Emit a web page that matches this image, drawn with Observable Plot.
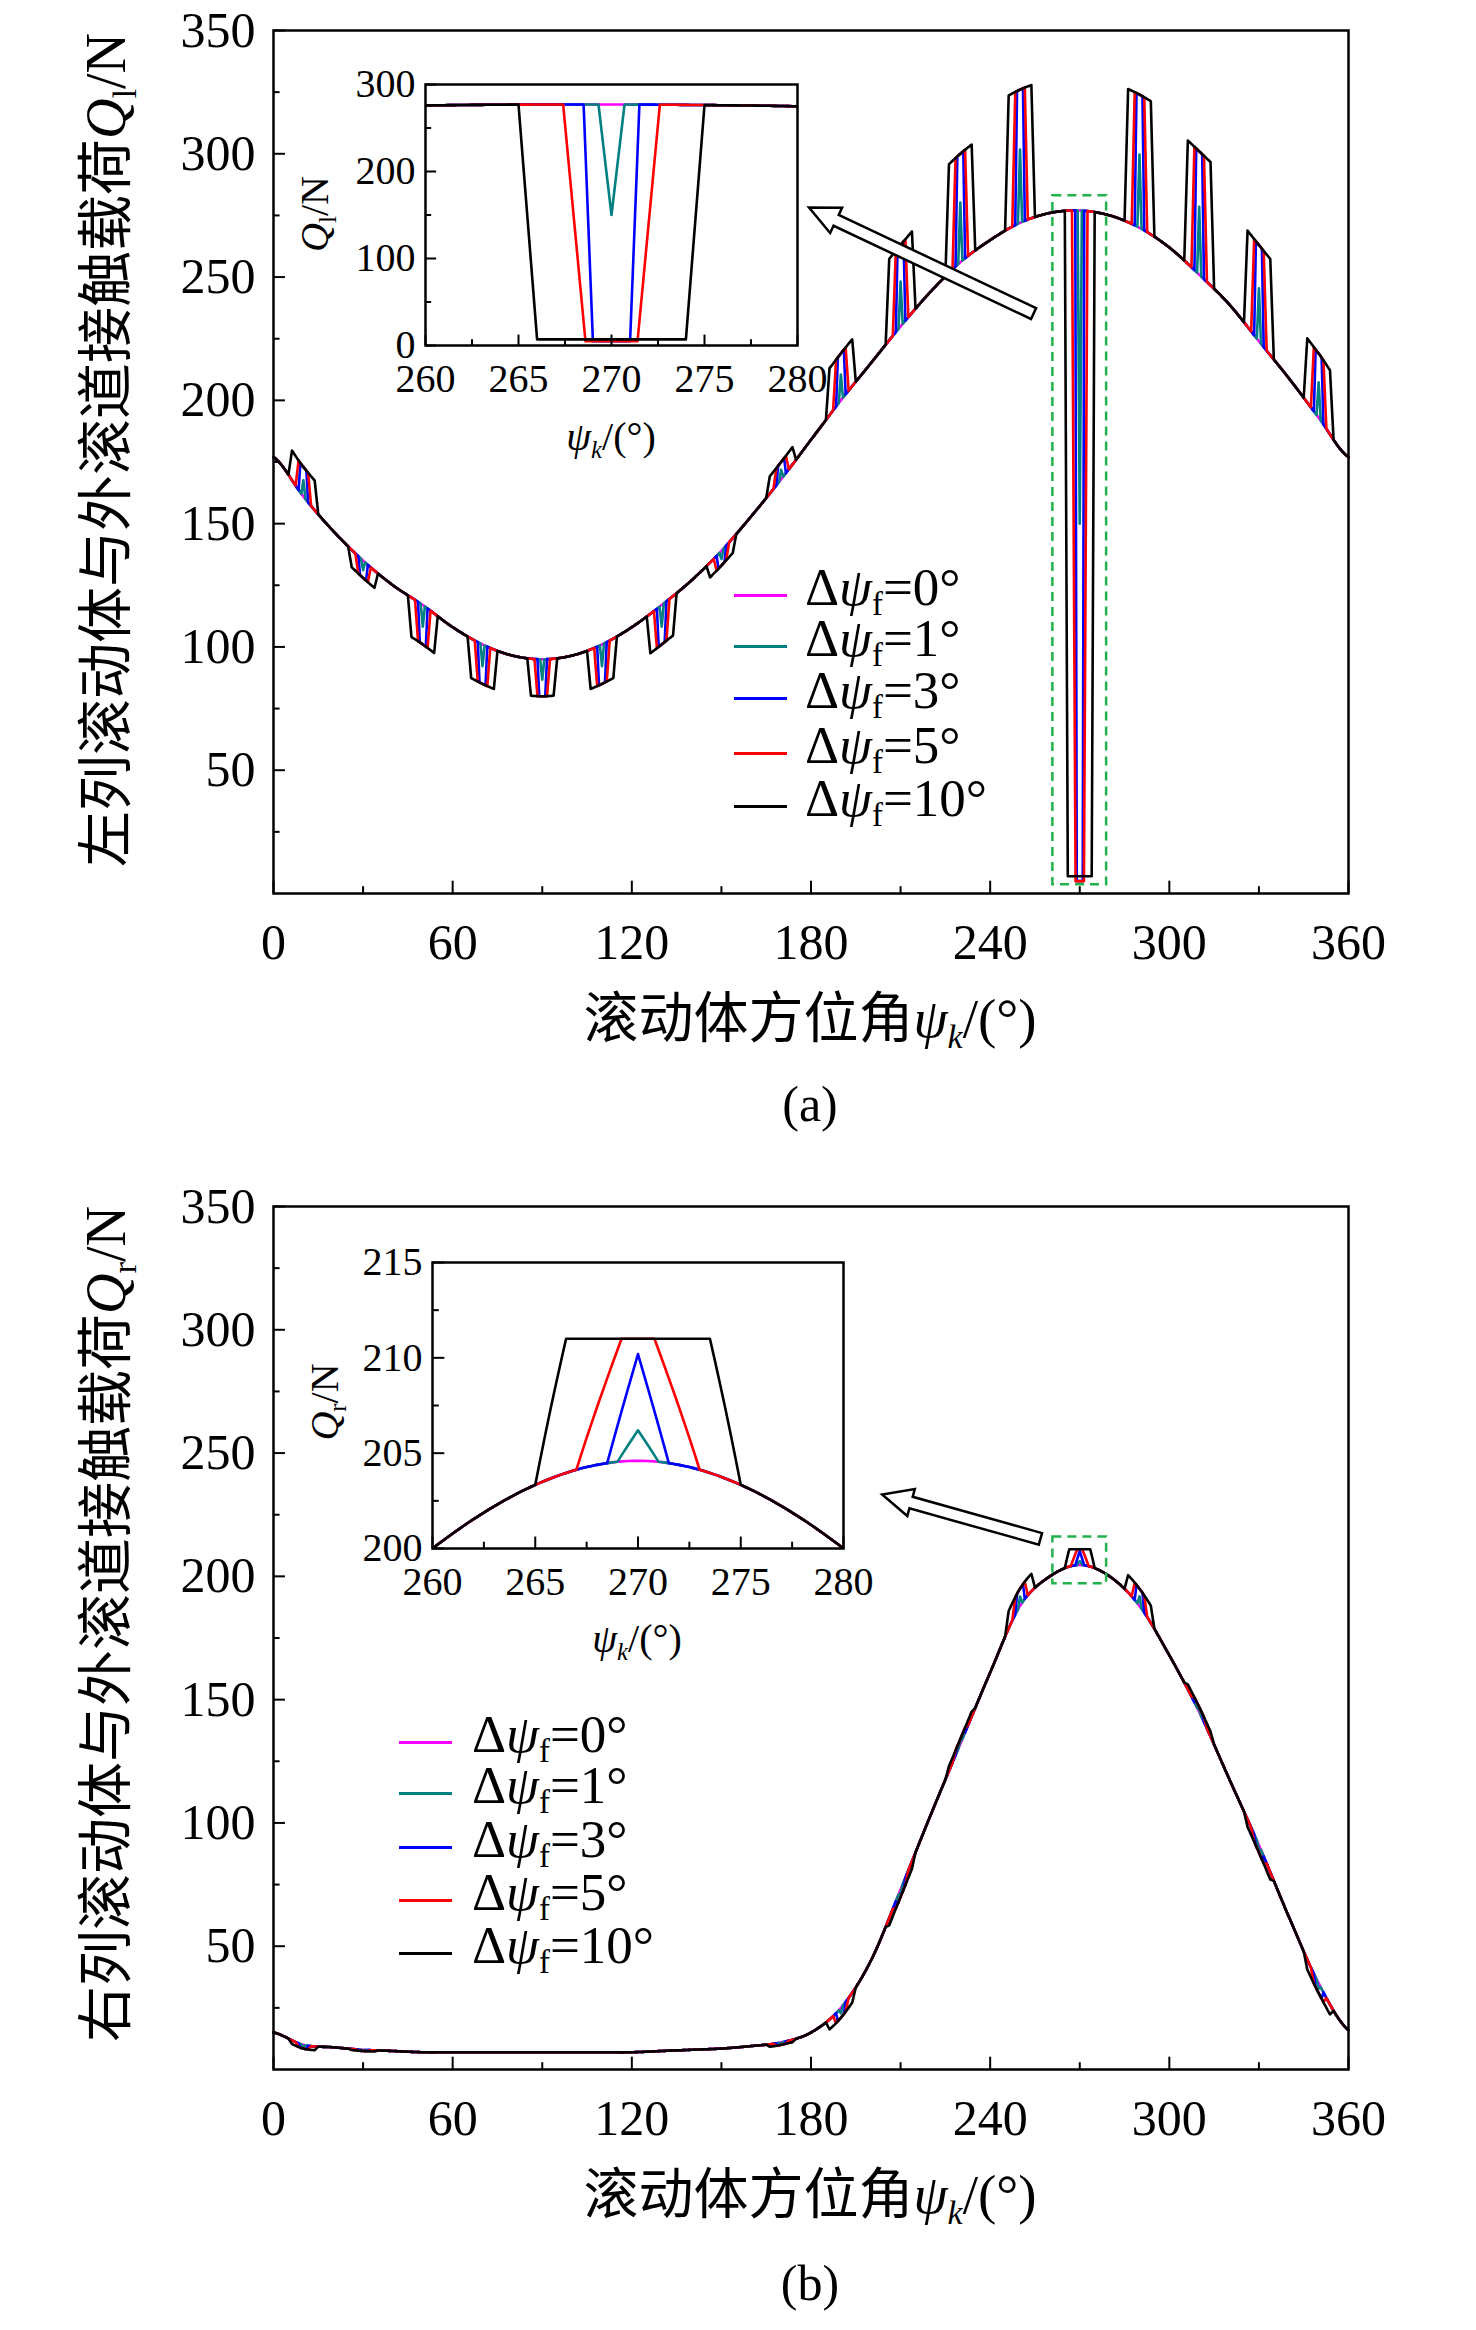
<!DOCTYPE html>
<html><head><meta charset="utf-8">
<script src="https://cdn.jsdelivr.net/npm/d3@7"></script>
<script src="https://cdn.jsdelivr.net/npm/@observablehq/plot@0.6"></script>
<style>
body{margin:0;background:#fff}
#wrap{position:relative;width:1476px;height:2330px;background:#fff;overflow:hidden;font-family:"Liberation Serif",serif}
#wrap svg{position:absolute;overflow:visible;background:transparent}
#wrap svg text{font-family:"Liberation Serif",serif !important}
.lab{position:absolute;transform:translate(-50%,-50%);white-space:nowrap;color:#000;line-height:1}
.leg{position:absolute;white-space:nowrap;font-size:53px;line-height:1;transform:translateY(-50%)}
.ll{position:absolute;height:0;border-top:3px solid}
sub{font-size:0.62em;vertical-align:-0.3em}
</style></head><body><div id="wrap"></div>
<script>
// ---- data ----
const angles = d3.range(0, 361, 10);
const baseL = [177,161,147,135,125,117,108,101,96.5,95,96.5,101,108,117,127,139,153,168,184,200,215,230,244,256,265,272,276,277,275,270,262,251,239,224,209,193,177];
const baseR = [15,10,9,8,7.5,7,7,7,7,7,7,7,7,7.5,8,8.5,9.5,11,15,25,44,73,103,132,161,188,200,204.6,200,188,168,145,118,91,62,35,16];
const elemPos = [10,30,50,70,90,110,130,150,170,190,210,230,250,270,290,310,330,350];
// spike offsets from the base curve
const offL = [12,-7,-16,-16,-15,-16,-16,-6,7,19,33,44,54,0,54,50,39,26];
const offR = [-1.5,-0.5,0,0,0,0,0,0,-1,-4,-3,2,7,0,7,2,-3,-4];
const deltas = [0,1,3,5,10];
const colors = ["#ff00ff","#008080","#0000ff","#ff0000","#000000"];
// centre-element (270°) absolute values per Δψf
const centreL = {1:150,3:5,5:5,10:7};
const centreR = {1:206.2,3:210.2,5:211,10:211};
const xTicksMain = [0,60,120,180,240,300,360];
const yTicksMain = [50,100,150,200,250,300,350];
const xTicksInset = [260,265,270,275,280];
const yTicksInsetA = [0,100,200,300];
const yTicksInsetB = [200,205,210,215];
const zoomBoxA = [{x1:261,x2:279,y1:3.5,y2:283}];
const zoomBoxB = [{x1:261,x2:279,y1:197,y2:216}];
const arrowA = {x1:254.7,y1:235,x2:179.5,y2:278};
const arrowB = {x1:257,y1:215,x2:204,y2:233};

// ---- spike shapes (plateau half width, ramp) ----
const shapeGen = {1:[0,0.7],3:[1,0.6],5:[1.6,1.0],10:[3.8,1.2]};
const shapeCentreL = {1:[0,0.7],3:[1,0.5],5:[1.4,1.2],10:[4,1]};
const shapeCentreR = {1:[0,1],3:[0,1.5],5:[0.8,2.2],10:[3.5,1.5]};

function cr(ys, a){
  const n = angles.length;
  let i = Math.min(Math.floor(a/10), n-2);
  const t = (a - angles[i]) / 10;
  const p0 = ys[Math.max(i-1,0)], p1 = ys[i], p2 = ys[i+1], p3 = ys[Math.min(i+2,n-1)];
  return 0.5*(2*p1 + (-p0+p2)*t + (2*p0-5*p1+4*p2-p3)*t*t + (-p0+3*p1-3*p2+p3)*t*t*t);
}
function series(base, offs, centre, shapeC, d){
  const pts = new Set(d3.range(0, 360.0001, 0.25).map(v=>+v.toFixed(3)));
  if (d>0) elemPos.forEach(p=>{
    const [h,r] = p===270 ? shapeC[d] : shapeGen[d];
    [p-h-r,p-h,p+h,p+h+r].forEach(v=>{ if(v>=0&&v<=360) pts.add(+v.toFixed(3)); });
  });
  const xs = [...pts].sort((a,b)=>a-b);
  return xs.map(a=>{
    const b = cr(base, a);
    let v = b;
    if (d>0) elemPos.forEach((p,k)=>{
      const [h,r] = p===270 ? shapeC[d] : shapeGen[d];
      let pk = p===270 ? centre[d] : b + offs[k]*(d===1 ? 0.55 : 1);
      const dist = Math.abs(a-p);
      if (dist <= h) v = pk;
      else if (dist < h+r) { const f = 1-(dist-h)/r; v = b + f*(pk - b); }
    });
    return {a, v, d};
  });
}
const dataL = deltas.map(d=>series(baseL, offL, centreL, shapeCentreL, d));
const dataR = deltas.map(d=>series(baseR, offR, centreR, shapeCentreR, d));

const wrap = document.getElementById("wrap");
const FONT = "Liberation Serif";

function lineMarks(data, clip){
  return data.map((s,i)=>Plot.line(s,{x:"a",y:"v",stroke:colors[i],strokeWidth:2.6,clip}));
}
function tickMarks(xMaj,xMin,yMaj,yMin,xl,yl,ybase,xbase){
  return [
    Plot.ruleX(xMaj,{x:d=>d,y1:ybase,y2:ybase+yl,stroke:"#000",strokeWidth:2}),
    Plot.ruleX(xMin,{x:d=>d,y1:ybase,y2:ybase+yl*0.55,stroke:"#000",strokeWidth:2}),
    Plot.ruleY(yMaj,{y:d=>d,x1:xbase,x2:xbase+xl,stroke:"#000",strokeWidth:2}),
    Plot.ruleY(yMin,{y:d=>d,x1:xbase,x2:xbase+xl*0.55,stroke:"#000",strokeWidth:2})
  ];
}
function hollowArrow(ar){
  return (index, {x, y}) => {
    const x1=x(ar.x1), y1=y(ar.y1), x2=x(ar.x2), y2=y(ar.y2);
    const dx=x2-x1, dy=y2-y1, L=Math.hypot(dx,dy), ux=dx/L, uy=dy/L, nx=-uy, ny=ux;
    const w=6, hw=14, hl=30;
    const bx=x2-ux*hl, by=y2-uy*hl;
    const P=[[x1+nx*w,y1+ny*w],[bx+nx*w,by+ny*w],[bx+nx*hw,by+ny*hw],[x2,y2],[bx-nx*hw,by-ny*hw],[bx-nx*w,by-ny*w],[x1-nx*w,y1-ny*w]];
    const g = document.createElementNS("http://www.w3.org/2000/svg","polygon");
    g.setAttribute("points", P.map(p=>p.join(",")).join(" "));
    g.setAttribute("fill","#fff"); g.setAttribute("stroke","#000"); g.setAttribute("stroke-width","2.5");
    return g;
  };
}
function mainPlot(data, box, ar, top){
  const p = Plot.plot({
    width:1476, height:1023, marginLeft:273, marginRight:128, marginTop:30, marginBottom:130,
    x:{domain:[0,360]}, y:{domain:[0,350]},
    style:{fontFamily:FONT, fontSize:"50px", color:"#000", background:"transparent"},
    marks:[
      ...lineMarks(data,false),
      Plot.rect(box,{x1:"x1",x2:"x2",y1:"y1",y2:"y2",fill:"none",stroke:"#22b24c",strokeWidth:2.5,strokeDasharray:"9,6"}),
      hollowArrow(ar),
      ...tickMarks(xTicksMain,[30,90,150,210,270,330],yTicksMain,[25,75,125,175,225,275,325],4,5,0,0),
      Plot.frame({stroke:"#000",strokeWidth:2.5}),
      Plot.axisX({ticks:xTicksMain,tickSize:0,tickPadding:30,label:null,fontSize:50,fontFamily:FONT}),
      Plot.axisY({ticks:yTicksMain,tickSize:0,tickPadding:18,label:null,fontSize:50,fontFamily:FONT})
    ]
  });
  p.style.left="0px"; p.style.top=top+"px";
  wrap.appendChild(p);
}
function insetPlot(data, yDom, yMaj, yMin, left, top, plotW, plotH, ytl){
  const p = Plot.plot({
    width:125+plotW+63, height:top.mt+plotH+110, marginLeft:125, marginRight:63, marginTop:top.mt, marginBottom:110,
    x:{domain:[260,280]}, y:{domain:yDom},
    style:{fontFamily:FONT, fontSize:"40px", color:"#000", background:"transparent"},
    marks:[
      ...lineMarks(data,true),
      ...tickMarks(xTicksInset,[262.5,267.5,272.5,277.5],yMaj,yMin,0.6,ytl,yDom[0],260),
      Plot.frame({stroke:"#000",strokeWidth:2.5}),
      Plot.axisX({ticks:xTicksInset,tickSize:0,tickPadding:18,label:null,fontSize:40,fontFamily:FONT}),
      Plot.axisY({ticks:yMaj,tickSize:0,tickPadding:10,label:null,fontSize:40,fontFamily:FONT})
    ]
  });
  p.style.left=left+"px"; p.style.top=top.t+"px";
  wrap.appendChild(p);
}
mainPlot(dataL, zoomBoxA, arrowA, 0);
mainPlot(dataR, zoomBoxB, arrowB, 1176);
insetPlot(dataL, [0,300], yTicksInsetA, [50,150,250], 300, {t:0, mt:84}, 372, 261, 12);
insetPlot(dataR, [200,215], yTicksInsetB, [202.5,207.5,212.5], 307, {t:1200, mt:62}, 411, 286, 0.6);

function lab(html,x,y,size,rot){
  const d=document.createElement("div"); d.className="lab"; d.innerHTML=html;
  d.style.left=x+"px"; d.style.top=y+"px"; d.style.fontSize=size+"px";
  if(rot) d.style.transform="translate(-50%,-50%) rotate(-90deg)";
  wrap.appendChild(d);
}
const CJK = s=>`<span style="font-family:'Noto Sans CJK SC'">${s}</span>`;
lab(CJK("左列滚动体与外滚道接触载荷")+"<i>Q</i><sub>l</sub>/N",108,450,56,true);
lab(CJK("滚动体方位角")+"<i>ψ<sub>k</sub></i>/(°)",810,1020,55);
lab("(a)",810,1104,50);
lab("<i>Q</i><sub>l</sub>/N",318,214,40,true);
lab("<i>ψ<sub>k</sub></i>/(°)",611,440,40);
lab(CJK("右列滚动体与外滚道接触载荷")+"<i>Q</i><sub>r</sub>/N",108,1624,56,true);
lab(CJK("滚动体方位角")+"<i>ψ<sub>k</sub></i>/(°)",810,2196,55);
lab("(b)",810,2283,50);
lab("<i>Q</i><sub>r</sub>/N",328,1402,40,true);
lab("<i>ψ<sub>k</sub></i>/(°)",637,1642,40);

const legTxt = deltas.map(d=>`Δ<i>ψ</i><sub>f</sub>=${d}°`);
function legend(lx,tx,ys){
  ys.forEach((y,i)=>{
    const l=document.createElement("div"); l.className="ll"; l.style.left=lx+"px"; l.style.width="53px";
    l.style.top=(y-1)+"px"; l.style.borderTopColor=colors[i]; wrap.appendChild(l);
    const t=document.createElement("div"); t.className="leg"; t.innerHTML=legTxt[i];
    t.style.left=tx+"px"; t.style.top=(y-4)+"px"; wrap.appendChild(t);
  });
}
legend(734,805,[595,646,698,753,806]);
legend(399,472,[1742,1793,1847,1900,1953]);
</script></body></html>
